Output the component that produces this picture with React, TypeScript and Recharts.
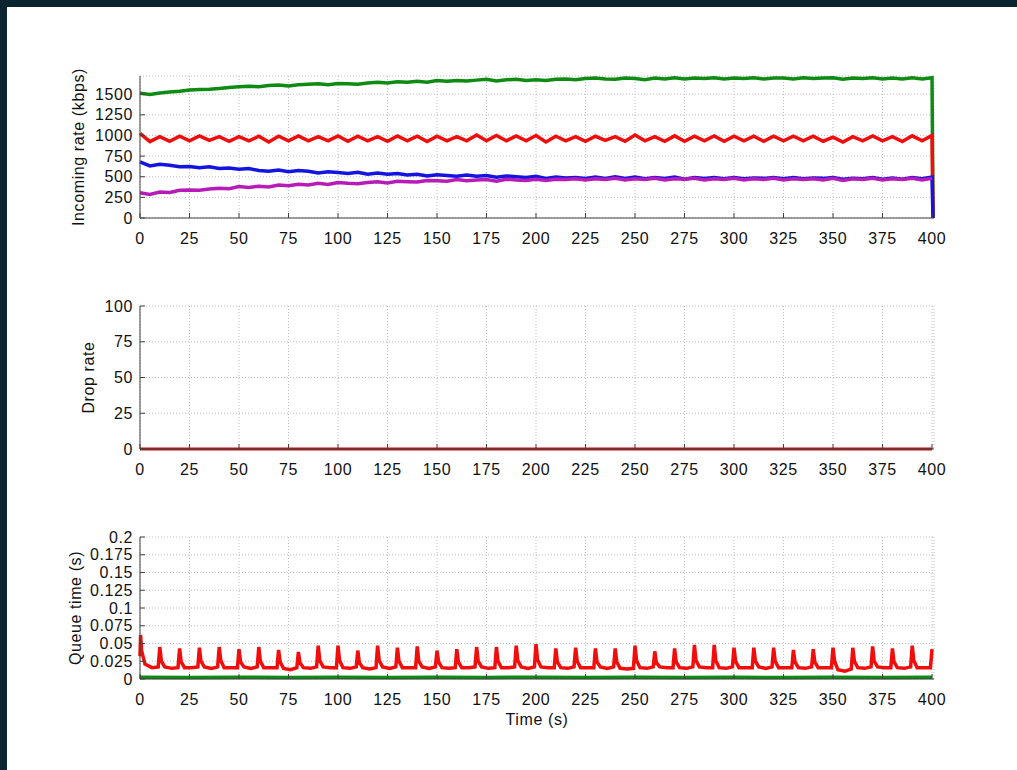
import type { ReactNode } from "react";
import { CartesianGrid, Label, Line, LineChart, XAxis, YAxis } from "recharts";

const FONT = '"Liberation Sans", Arial, Helvetica, sans-serif';
const INK = "#111111";
const AXIS = "#404040";
const GRID = "#c0c0c0";
const GREEN = "#0f8a12";
const RED = "#f20d0d";
const BLUE = "#1414e0";
const PURPLE = "#b81cb8";
const LINE_W = 3.5;

const timeTicks = [0, 25, 50, 75, 100, 125, 150, 175, 200, 225, 250, 275, 300, 325, 350, 375, 400];
const rateTicks = [0, 250, 500, 750, 1000, 1250, 1500];
const dropTicks = [0, 25, 50, 75, 100];
const queueTicks = [0, 0.025, 0.05, 0.075, 0.1, 0.125, 0.15, 0.175, 0.2];

// incoming rate, one sample every 5 s from 0 to 400
const rateStep = 5;
const rateGreen = [
  1510, 1495, 1515, 1525, 1535, 1550, 1555, 1560, 1570, 1580,
  1590, 1595, 1590, 1605, 1610, 1600, 1615, 1620, 1625, 1615,
  1630, 1625, 1620, 1635, 1645, 1635, 1650, 1645, 1655, 1645,
  1665, 1655, 1665, 1660, 1670, 1680, 1660, 1675, 1680, 1665,
  1675, 1665, 1680, 1685, 1675, 1690, 1695, 1685, 1680, 1695,
  1690, 1675, 1695, 1685, 1700, 1685, 1695, 1690, 1700, 1685,
  1695, 1690, 1700, 1685, 1695, 1695, 1685, 1700, 1690, 1695,
  1700, 1680, 1695, 1690, 1700, 1685, 1695, 1685, 1700, 1685,
  1700,
];
const rateRed = [
  1025, 925, 985, 930, 990, 935, 995, 940, 985, 930,
  985, 935, 990, 920, 990, 935, 995, 935, 985, 935,
  995, 930, 990, 935, 985, 930, 995, 935, 990, 925,
  990, 935, 985, 935, 1005, 935, 1000, 935, 995, 935,
  1000, 920, 990, 935, 985, 930, 990, 940, 985, 930,
  1005, 935, 985, 930, 995, 930, 990, 935, 995, 930,
  990, 935, 990, 930, 990, 935, 990, 935, 990, 930,
  980, 920, 985, 935, 995, 935, 985, 925, 995, 935,
  1000,
];
const rateBlue = [
  680, 630, 650, 640, 620, 625, 610, 620, 600, 605,
  590, 600, 575, 565, 580, 560, 575, 565, 545, 560,
  550, 540, 555, 530, 545, 530, 540, 520, 530, 510,
  525, 515, 505, 520, 505, 515, 495, 510, 500, 490,
  505, 480, 495, 485, 490, 480, 495, 480, 500, 480,
  495, 475, 490, 480, 495, 470, 490, 480, 490, 475,
  490, 475, 485, 480, 490, 475, 490, 475, 485, 480,
  490, 470, 480, 475, 490, 470, 485, 470, 490, 475,
  495,
];
const ratePurple = [
  305, 285, 315, 310, 335, 340, 335, 350, 360, 355,
  380, 370, 385, 375, 400, 390, 410, 400, 420, 405,
  430, 420, 415, 430, 440, 425, 445, 440, 435, 455,
  450, 445, 465, 450, 460, 465, 445, 470, 460, 455,
  470, 455, 470, 465, 475, 460, 475, 465, 480, 460,
  475, 465, 480, 460, 475, 470, 480, 460, 475, 465,
  480, 460, 475, 465, 480, 460, 475, 465, 475, 460,
  480, 455, 475, 465, 480, 460, 475, 465, 480, 460,
  480,
];
// the run stops just after 400 s and the rates fall to zero (purple stays hidden behind)
const rateEnd = { t: 400.5, green: 0, red: 0, blue: 0 };

// drop rate
const dropTimes = [0, 100, 200, 300, 400];
const dropRed = [0, 0, 0, 0, 0];

// queue time: one spike every 10 s
const queueStart = 0.032;
const queuePeak = [
  0.062, 0.045, 0.043, 0.044, 0.045, 0.042, 0.045, 0.041, 0.038, 0.047,
  0.047, 0.040, 0.047, 0.044, 0.046, 0.040, 0.042, 0.045, 0.045, 0.047,
  0.049, 0.043, 0.044, 0.043, 0.043, 0.047, 0.039, 0.043, 0.048, 0.048,
  0.044, 0.044, 0.044, 0.041, 0.042, 0.044, 0.044, 0.046, 0.043, 0.047,
  0.042,
];
const queueTail = [
  0.04, 0.025, 0.024, 0.025, 0.026, 0.024, 0.025, 0.024, 0.023, 0.026,
  0.026, 0.023, 0.026, 0.025, 0.025, 0.024, 0.024, 0.025, 0.025, 0.026,
  0.027, 0.024, 0.025, 0.024, 0.024, 0.026, 0.023, 0.024, 0.026, 0.026,
  0.025, 0.025, 0.025, 0.024, 0.024, 0.025, 0.025, 0.025, 0.024, 0.026,
];
const queueBase = [
  0.021, 0.017, 0.016, 0.017, 0.016, 0.017, 0.016, 0.015, 0.016, 0.017,
  0.016, 0.016, 0.017, 0.016, 0.017, 0.016, 0.016, 0.017, 0.016, 0.017,
  0.017, 0.016, 0.016, 0.017, 0.015, 0.016, 0.017, 0.016, 0.017, 0.016,
  0.016, 0.017, 0.016, 0.016, 0.016, 0.013, 0.016, 0.017, 0.016, 0.016,
];
const queueMid = [
  0.016, 0.015, 0.016, 0.015, 0.016, 0.015, 0.016, 0.013, 0.015, 0.016,
  0.015, 0.014, 0.015, 0.016, 0.015, 0.015, 0.016, 0.015, 0.016, 0.015,
  0.016, 0.015, 0.016, 0.015, 0.014, 0.015, 0.016, 0.015, 0.016, 0.015,
  0.016, 0.015, 0.016, 0.015, 0.016, 0.011, 0.015, 0.016, 0.015, 0.016,
];
const queuePre = [
  0.017, 0.016, 0.017, 0.017, 0.016, 0.017, 0.016, 0.016, 0.017, 0.016,
  0.017, 0.016, 0.017, 0.016, 0.017, 0.016, 0.017, 0.016, 0.017, 0.017,
  0.016, 0.017, 0.016, 0.017, 0.015, 0.017, 0.016, 0.017, 0.016, 0.017,
  0.016, 0.017, 0.016, 0.017, 0.016, 0.014, 0.017, 0.016, 0.017, 0.016,
];
const queueGreenTimes = [0, 25, 50, 75, 100, 125, 150, 175, 200, 225, 250, 275, 300, 325, 350, 375, 400];
const queueGreen = [
  0.0025, 0.002, 0.0025, 0.0022, 0.0025, 0.002, 0.0024, 0.0022, 0.0025,
  0.002, 0.0025, 0.0022, 0.0024, 0.002, 0.0025, 0.0022, 0.0024,
];

type Pt = { t: number; v: number };

const rateData: Record<string, number>[] = rateGreen.map((g, i) => ({
  t: i * rateStep,
  green: g,
  red: rateRed[i],
  blue: rateBlue[i],
  purple: ratePurple[i],
}));
rateData.push(rateEnd);

const dropData: Pt[] = dropTimes.map((t, i) => ({ t, v: dropRed[i] }));

const queueRed: Pt[] = [{ t: 0, v: queueStart }];
queuePeak.forEach((p, k) => {
  const t0 = k * 10;
  if (k > 0) queueRed.push({ t: t0 - 0.8, v: queuePre[k - 1] });
  queueRed.push({ t: k === 0 ? 0.3 : t0, v: p });
  if (k < queueTail.length) {
    queueRed.push({ t: t0 + 0.8, v: queueTail[k] });
    queueRed.push({ t: t0 + 2.5, v: queueBase[k] });
    queueRed.push({ t: t0 + 6, v: queueMid[k] });
  }
});
const queueGreenData: Pt[] = queueGreenTimes.map((t, i) => ({ t, v: queueGreen[i] }));

const tickStyle = { fill: INK, fontSize: 16, fontFamily: FONT };
const labelStyle = { fill: INK, fontSize: 16, fontFamily: FONT, textAnchor: "middle" as const };

interface PanelProps {
  top: number;
  height: number;
  plotTop: number;
  plotBottom: number;
  yDomain: [number, number];
  yTicks: number[];
  yLabel: string;
  yLabelShift: number;
  data?: Record<string, number>[];
  title?: string;
  xLabel?: string;
  children: ReactNode;
}

function Panel({
  top,
  height,
  plotTop,
  plotBottom,
  yDomain,
  yTicks,
  yLabel,
  yLabelShift,
  data,
  title,
  xLabel,
  children,
}: PanelProps) {
  return (
    <div style={{ position: "absolute", left: 0, top }}>
      <LineChart
        width={1017}
        height={height}
        data={data}
        margin={{ top: plotTop - top, right: 83, bottom: 0, left: 80 }}
      >
        <CartesianGrid stroke={GRID} strokeDasharray="1 2" />
        <XAxis
          dataKey="t"
          type="number"
          domain={[0, 401]}
          ticks={timeTicks}
          interval={0}
          height={top + height - plotBottom}
          tickSize={-5}
          tickMargin={20}
          axisLine={{ stroke: AXIS }}
          tickLine={{ stroke: AXIS }}
          tick={tickStyle}
        >
          {xLabel && <Label value={xLabel} position="insideTop" offset={35} style={labelStyle} />}
        </XAxis>
        <XAxis
          xAxisId="top"
          orientation="top"
          type="number"
          domain={[0, 401]}
          ticks={timeTicks}
          interval={0}
          height={0}
          tick={false}
          tickSize={-5}
          axisLine={{ stroke: AXIS }}
          tickLine={{ stroke: AXIS }}
          allowDataOverflow
        >
          {title && <Label value={title} position="top" offset={15} style={labelStyle} />}
        </XAxis>
        <YAxis
          type="number"
          domain={yDomain}
          ticks={yTicks}
          interval={0}
          width={60}
          tickSize={-5}
          tickMargin={12}
          axisLine={{ stroke: AXIS }}
          tickLine={{ stroke: AXIS }}
          tick={tickStyle}
        >
          <Label value={yLabel} angle={-90} position="insideLeft" offset={yLabelShift} style={labelStyle} />
        </YAxis>
        <YAxis
          yAxisId="right"
          orientation="right"
          type="number"
          domain={yDomain}
          ticks={yTicks}
          interval={0}
          width={0}
          tick={false}
          tickSize={-5}
          axisLine={{ stroke: AXIS }}
          tickLine={{ stroke: AXIS }}
          allowDataOverflow
        />
        {children}
      </LineChart>
    </div>
  );
}

export default function App() {
  return (
    <div
      style={{
        position: "absolute",
        left: 0,
        top: 0,
        width: 1017,
        height: 770,
        background: "#0b2530",
        overflow: "hidden",
        fontFamily: FONT,
        letterSpacing: "0.6px",
      }}
    >
      <div style={{ position: "absolute", left: 7, top: 7, right: 0, bottom: 0, background: "#ffffff" }} />

      <Panel
        top={0}
        height={260}
        plotTop={76}
        plotBottom={218}
        yDomain={[0, 1720]}
        yTicks={rateTicks}
        yLabel="Incoming rate (kbps)"
        yLabelShift={-2}
        data={rateData}
        title="Network"
      >
        <Line dataKey="green" stroke={GREEN} strokeWidth={LINE_W} dot={false} isAnimationActive={false} />
        <Line dataKey="red" stroke={RED} strokeWidth={LINE_W} dot={false} isAnimationActive={false} />
        <Line dataKey="blue" stroke={BLUE} strokeWidth={LINE_W} dot={false} isAnimationActive={false} />
        <Line dataKey="purple" stroke={PURPLE} strokeWidth={LINE_W} dot={false} isAnimationActive={false} />
      </Panel>

      <Panel
        top={230}
        height={260}
        plotTop={306}
        plotBottom={449}
        yDomain={[0, 100]}
        yTicks={dropTicks}
        yLabel="Drop rate"
        yLabelShift={8}
      >
        <Line data={dropData} dataKey="v" stroke="#c41212" strokeWidth={3} dot={false} isAnimationActive={false} />
      </Panel>

      <Panel
        top={460}
        height={310}
        plotTop={537}
        plotBottom={679}
        yDomain={[0, 0.2]}
        yTicks={queueTicks}
        yLabel="Queue time (s)"
        yLabelShift={-5}
        xLabel="Time (s)"
      >
        <Line data={queueGreenData} dataKey="v" stroke={GREEN} strokeWidth={LINE_W} dot={false} isAnimationActive={false} />
        <Line data={queueRed} dataKey="v" stroke={RED} strokeWidth={LINE_W} dot={false} isAnimationActive={false} />
      </Panel>
    </div>
  );
}
